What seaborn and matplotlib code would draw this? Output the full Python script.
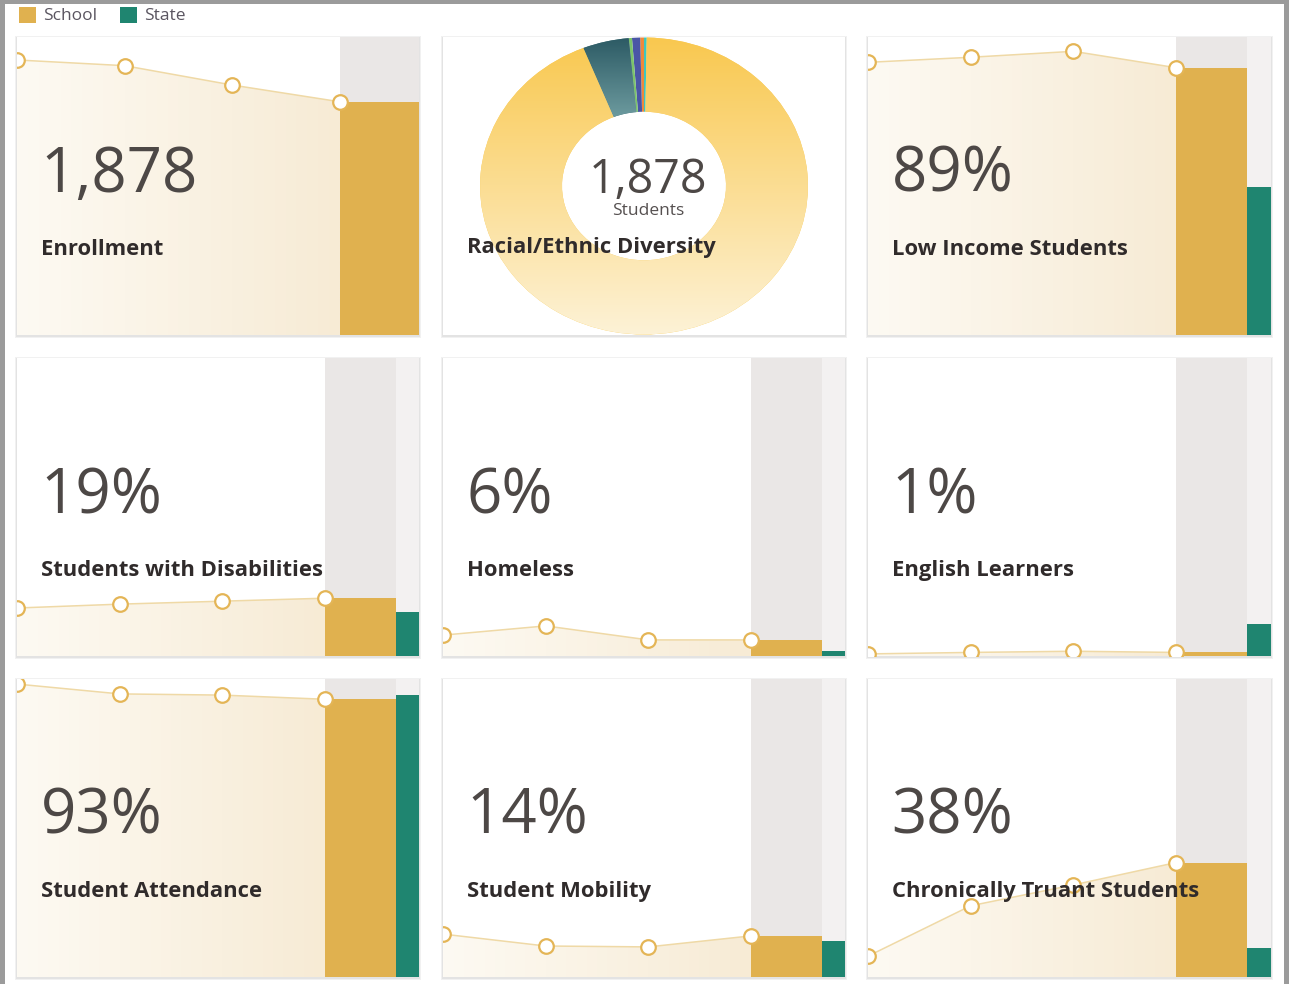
import numpy as np
import matplotlib
matplotlib.use("Agg")
import matplotlib.pyplot as plt
import seaborn as sns
from matplotlib.patches import Rectangle, Polygon
from matplotlib.colors import LinearSegmentedColormap

# ---------------- data ----------------
legend_labels = ["School", "State"]
card_titles = ["Enrollment", "Racial/Ethnic Diversity", "Low Income Students",
               "Students with Disabilities", "Homeless", "English Learners",
               "Student Attendance", "Student Mobility", "Chronically Truant Students"]
card_numbers = ["1,878", "1,878", "89%", "19%", "6%", "1%", "93%", "14%", "38%"]
donut_caption = "Students"

# four reporting years, oldest -> current (school trend)
enrollment_trend = [2215, 2169, 2013, 1878]
low_income_trend = [91.5, 93.2, 95.2, 89.7]
disabilities_trend = [16.1, 17.4, 18.4, 19.4]
homeless_trend = [7.0, 10.1, 5.4, 5.4]
english_learners_trend = [0.7, 1.2, 1.6, 1.2]
attendance_trend = [98.3, 95.0, 94.6, 93.2]
mobility_trend = [14.4, 10.4, 10.1, 13.8]
truancy_trend = [7.0, 23.9, 30.9, 38.4]

# current-year bars
school_values = [1878, None, 89.7, 19.4, 5.4, 1.2, 93.2, 13.8, 38.4]
state_values = [None, None, 49.8, 14.7, 1.8, 10.7, 94.6, 12.1, 9.6]
scale_max = [2400, None, 100, 100, 100, 100, 100, 100, 100]

race_groups = ["Asian", "Hispanic", "Two or More Races", "White", "Black", "Pacific Islander"]
race_counts = [7, 15, 6, 85, 1760, 5]

trends = [enrollment_trend, None, low_income_trend, disabilities_trend, homeless_trend,
          english_learners_trend, attendance_trend, mobility_trend, truancy_trend]

# ---------------- style ----------------
sns.set_theme(style="white")
plt.rcParams["font.family"] = ["Open Sans", "DejaVu Sans"]

GOLD = "#e0b14f"
TEAL = "#1f8570"
BG1 = "#eae7e6"
BG2 = "#f3f1f1"
LINE = "#efd9a6"
MK = "#e4b556"
NUM_C = "#4d4846"
LAB_C = "#302b2b"
race_colors = ["#f0883a", "#4a56a6", "#7cc46a", "#3f6f76", "#f9c951", "#3cc8c0"]

W, H = 1289, 984
fig = plt.figure(figsize=(W / 100, H / 100), dpi=100)
fig.patch.set_facecolor("white")


def frac(x, y, w, h):
    return [x / W, 1 - (y + h) / H, w / W, h / H]


def fig_rect(x, y, w, h, **kw):
    r = Rectangle((x / W, 1 - (y + h) / H), w / W, h / H, transform=fig.transFigure, **kw)
    fig.add_artist(r)
    return r


# outer grey frame
fig_rect(0, 0, 5, H, color="#9b9b9b", zorder=-5, lw=0)
fig_rect(0, 0, W, 4, color="#9b9b9b", zorder=-5, lw=0)
fig_rect(1284, 0, 5, H, color="#9b9b9b", zorder=-5, lw=0)

# legend
fig_rect(19, 7, 17, 16, color=GOLD, lw=0)
fig_rect(120, 7, 17, 16, color=TEAL, lw=0)
fig.text(43 / W, 1 - 16.5 / H, legend_labels[0], fontsize=12.5, color="#5a5560", va="center")
fig.text(144 / W, 1 - 16.5 / H, legend_labels[1], fontsize=12.5, color="#5a5560", va="center")

col_x = [17, 443, 868]
col_w = [402, 402, 403]
row_y = [37, 358, 679]
row_h = 298

LABEL_FS = 15.8
fill_cmap = LinearSegmentedColormap.from_list("fillgrad", ["#fdfaf3", "#f7ebd5"])

for i in range(9):
    r, c = divmod(i, 3)
    x0, y0, w, h = col_x[c], row_y[r], col_w[c], row_h
    # shadow + card
    fig_rect(x0 - 2, y0 - 1, w + 4, h + 4, color="#f1f1f1", zorder=-3, lw=0)
    fig_rect(x0 - 1, y0, w + 2, h + 2, color="#e3e3e3", zorder=-2, lw=0)
    fig_rect(x0, y0, w, h, color="white", zorder=-1, lw=0)

    ax = fig.add_axes(frac(x0, y0, w, h))
    ax.set_facecolor("none")
    for s in ax.spines.values():
        s.set_visible(False)
    ax.set_xticks([])
    ax.set_yticks([])

    if i == 1:
        wedges, _ = ax.pie(race_counts, colors=race_colors, startangle=90, counterclock=True,
                           radius=1, wedgeprops=dict(width=0.5, linewidth=0))
        grads = {4: (["#fdf2d6", "#f9c84f"], [-1, 1, -1, 1]),
                 3: (["#6e9ca0", "#2c5a64"], [-1, 1, 0.45, 1])}
        for k, (cols, ext) in grads.items():
            cm = LinearSegmentedColormap.from_list("g%d" % k, cols)
            im = ax.imshow(np.linspace(1, 0, 256)[:, None], extent=ext, cmap=cm,
                           aspect="auto", origin="upper", zorder=2)
            im.set_clip_path(wedges[k])
        ax.set_aspect("auto")
        ax.set_xlim(-w / 2 / 164, w / 2 / 164)
        ax.set_ylim(-h / 2 / 148.5, h / 2 / 148.5)
        ax.set_frame_on(False)
        ax.text(205 / w, 1 - 156 / h, card_numbers[i], transform=ax.transAxes, ha="center",
                va="baseline", fontsize=33.5, color=NUM_C, zorder=10)
        ax.text(205 / w, 1 - 178 / h, donut_caption, transform=ax.transAxes, ha="center",
                va="baseline", fontsize=12.5, color="#555050", zorder=10)
        ax.text(24 / w, 1 - 216 / h, card_titles[i], transform=ax.transAxes, ha="left",
                va="baseline", fontsize=LABEL_FS, fontweight="bold", color=LAB_C, zorder=10)
        continue

    ymax = scale_max[i]
    ax.set_xlim(0, 1)
    ax.set_ylim(0, ymax)
    has_state = state_values[i] is not None
    if has_state:
        bar_left = 308 / w
        sw = 71 / w
        tw = 1 - bar_left - sw
    else:
        bar_left = 323 / w
        sw = 1 - bar_left
        tw = 0

    ax.axvspan(bar_left, bar_left + sw, color=BG1, lw=0, zorder=0.5)
    ax.bar(bar_left + sw / 2, school_values[i], width=sw, color=GOLD, lw=0, zorder=3)
    if has_state:
        ax.axvspan(bar_left + sw, 1, color=BG2, lw=0, zorder=0.5)
        ax.bar(bar_left + sw + tw / 2, state_values[i], width=tw, color=TEAL, lw=0, zorder=3)

    t = trends[i]
    xs = np.linspace(0, bar_left, len(t))
    poly = Polygon([(0, 0)] + list(zip(xs, t)) + [(xs[-1], 0)], closed=True,
                   facecolor="none", edgecolor="none")
    ax.add_patch(poly)
    im = ax.imshow(np.linspace(0, 1, 256)[None, :], extent=[0, bar_left, 0, ymax],
                   cmap=fill_cmap, aspect="auto", zorder=1)
    im.set_clip_path(poly)
    sns.lineplot(x=xs, y=t, ax=ax, color=LINE, linewidth=1.1, marker="o", markersize=10.5,
                 markerfacecolor="white", markeredgecolor=MK, markeredgewidth=1.6, zorder=5)
    ax.set_xlim(0, 1)
    ax.set_ylim(0, ymax)
    ax.set_xlabel("")
    ax.set_ylabel("")

    ax.text(23.5 / w, 1 - 155 / h, card_numbers[i], transform=ax.transAxes, ha="left",
            va="baseline", fontsize=44.5, color=NUM_C, zorder=10)
    ax.text(24 / w, 1 - 218 / h, card_titles[i], transform=ax.transAxes, ha="left",
            va="baseline", fontsize=LABEL_FS, fontweight="bold", color=LAB_C, zorder=10)

fig.savefig("out.png", dpi=100)
